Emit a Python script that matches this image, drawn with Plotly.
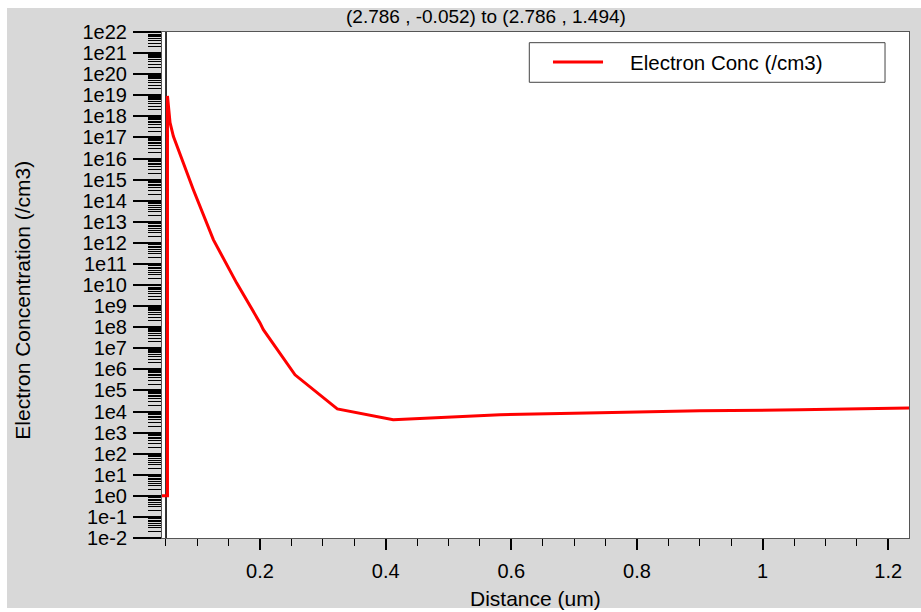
import plotly.graph_objects as go

# ---- data ----
distance_um = [0.03, 0.0527, 0.0527, 0.0568, 0.0621, 0.0939, 0.1257, 0.1629,
               0.2000, 0.2053, 0.2557, 0.3230, 0.4120, 0.5820, 0.7410,
               0.9000, 1.0590, 1.2340]
log_electron_conc = [0.0, 0.0, 18.97, 17.7, 17.05, 14.52, 12.15, 10.09,
                     8.20, 7.88, 5.74, 4.12, 3.61, 3.85, 3.94,
                     4.03, 4.08, 4.17]
electron_conc = [10 ** v for v in log_electron_conc]

boundary_x = [0.0504, 0.0504]
boundary_y = [1e-2, 1e22]

y_exponents = list(range(-2, 23))
y_tickvals = [10.0 ** k for k in y_exponents]
y_ticktext = ["1e%d" % k for k in y_exponents]

x_tickvals = [0.2, 0.4, 0.6, 0.8, 1.0, 1.2]
x_ticktext = ["0.2", "0.4", "0.6", "0.8", "1", "1.2"]

title_text = "(2.786 , -0.052) to (2.786 , 1.494)"
series_name = "Electron Conc (/cm3)"

FONT = "Liberation Sans, Arial, sans-serif"
GRAY = "#d8d8d8"

fig = go.Figure()
fig.add_trace(go.Scatter(x=boundary_x, y=boundary_y, mode="lines",
                         line=dict(color="black", width=1.6),
                         showlegend=False, hoverinfo="skip"))
fig.add_trace(go.Scatter(x=distance_um, y=electron_conc, mode="lines",
                         name=series_name,
                         line=dict(color="#ff0000", width=3),
                         showlegend=False))

fig.update_layout(
    width=921, height=612,
    margin=dict(l=162, r=12, t=32, b=74, pad=0),
    paper_bgcolor="white",
    plot_bgcolor="white",
    font=dict(family=FONT, size=20, color="black"),
    showlegend=False,
    shapes=[
        dict(type="rect", xref="paper", yref="paper",
             x0=-0.2075, x1=1.02, y0=-0.1383, y1=1.0474,
             fillcolor=GRAY, line=dict(width=0), layer="below"),
        dict(type="rect", xref="paper", yref="paper",
             x0=0, x1=1, y0=0, y1=1,
             fillcolor="white", line=dict(width=0), layer="below"),
        # legend box
        dict(type="rect", xref="paper", yref="paper",
             x0=0.4917, x1=0.9679, y0=0.9006, y1=0.9789,
             fillcolor="white", line=dict(color="#444444", width=1)),
        dict(type="line", xref="paper", yref="paper",
             x0=0.5234, x1=0.5904, y0=0.9407, y1=0.9407,
             line=dict(color="#ff0000", width=3)),
    ],
    annotations=[
        dict(text=title_text, xref="paper", yref="paper", x=0.434, y=1.0316,
             xanchor="center", yanchor="middle", showarrow=False,
             font=dict(size=19)),
        dict(text=series_name, xref="paper", yref="paper", x=0.6238, y=0.9407,
             xanchor="left", yanchor="middle", showarrow=False,
             font=dict(size=20.5)),
        dict(text="Electron Concentration (/cm3)", xref="paper", yref="paper",
             x=-0.1867, y=0.470, textangle=-90, xanchor="center",
             yanchor="middle", showarrow=False, font=dict(size=21)),
        dict(text="Distance (um)", xref="paper", yref="paper",
             x=0.5, y=-0.1205, xanchor="center", yanchor="middle",
             showarrow=False, font=dict(size=21)),
    ],
)

fig.update_xaxes(
    range=[0.044, 1.233],
    tickmode="array", tickvals=x_tickvals, ticktext=x_ticktext,
    ticks="outside", ticklen=11, tickwidth=1.5, tickcolor="black",
    ticklabelstandoff=4,
    minor=dict(tickmode="linear", tick0=0, dtick=0.05, ticks="outside",
               ticklen=7, tickwidth=1, tickcolor="black", showgrid=False),
    showgrid=False, zeroline=False,
    showline=True, linecolor="#555555", linewidth=1, mirror=True,
    tickfont=dict(size=20),
)

fig.update_yaxes(
    type="log", range=[-2, 22],
    tickmode="array", tickvals=y_tickvals, ticktext=y_ticktext,
    ticks="outside", ticklen=28, tickwidth=1.5, tickcolor="black",
    ticklabelstandoff=2,
    minor=dict(dtick="D1", ticks="outside", ticklen=13, tickwidth=1,
               tickcolor="black", showgrid=False),
    showgrid=False, zeroline=False,
    showline=True, linecolor="#555555", linewidth=1, mirror=True,
    tickfont=dict(size=20),
)

fig.write_html("out.html")
